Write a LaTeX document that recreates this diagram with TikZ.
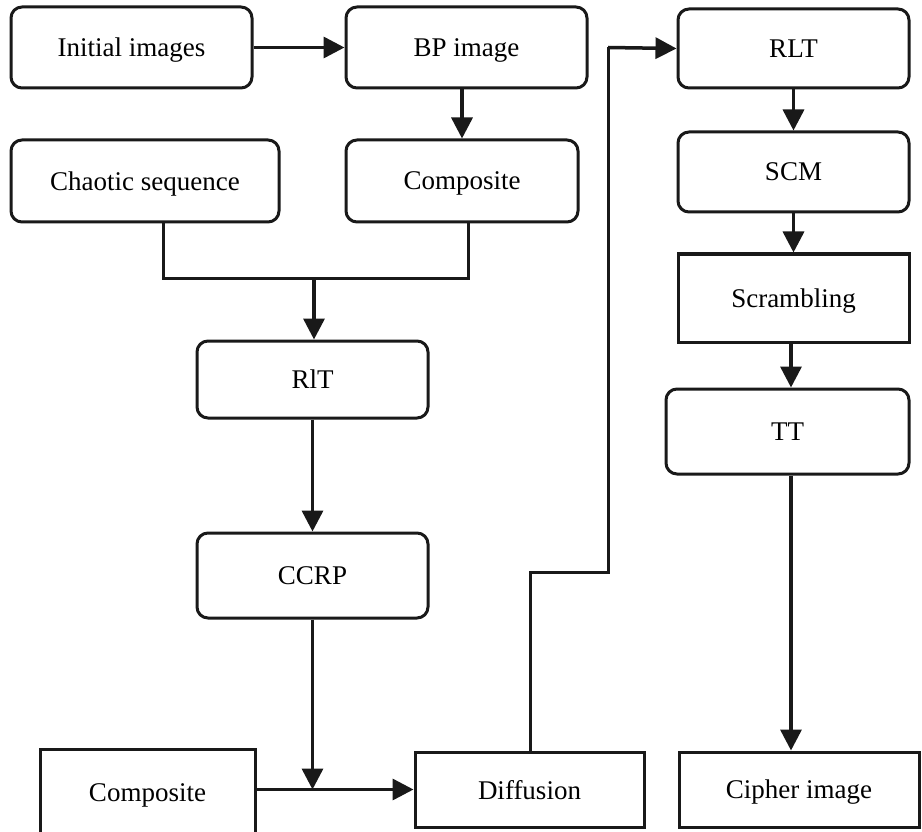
\documentclass[tikz,border=0pt]{standalone}
\usepackage{fontspec}
\setmainfont{Liberation Serif}
\usetikzlibrary{arrows.meta}
\begin{document}
\begin{tikzpicture}[x=1pt,y=-1pt,
  box/.style={draw=black!90,line width=3pt,inner sep=0pt,text depth=0pt,font=\fontsize{27}{32}\selectfont},
  rbox/.style={box,rounded corners=11pt},
  sbox/.style={box},
  conn/.style={draw=black!90,line width=3.5pt},
  arr/.style={conn,-{Triangle[length=21pt,width=21pt]}}]
\useasboundingbox (0,0) rectangle (922,832);
\clip (0,0) rectangle (922,832);
\fill[white] (0,0) rectangle (922,832);
% nodes
\node[rbox,minimum width=241pt,minimum height=81pt] (init) at (131.5,47.5) {Initial images};
\node[rbox,minimum width=241pt,minimum height=81pt] (bp) at (466.5,47.5) {BP image};
\node[rbox,minimum width=268pt,minimum height=82pt] (chaos) at (145,181) {Chaotic sequence};
\node[rbox,minimum width=232pt,minimum height=82pt] (compa) at (462,181) {Composite};
\node[rbox,minimum width=231pt,minimum height=77pt] (rit) at (312.5,379.5) {RlT};
\node[rbox,minimum width=231pt,minimum height=85pt] (ccrp) at (312.5,575.5) {CCRP};
\node[sbox,minimum width=215pt,minimum height=88pt] (compb) at (147.5,793) {Composite};
\node[sbox,minimum width=229pt,minimum height=75pt] (diff) at (529.5,789.5) {Diffusion};
\node[rbox,minimum width=231pt,minimum height=79pt] (rlt) at (793.5,48.5) {RLT};
\node[rbox,minimum width=231pt,minimum height=80pt] (scm) at (793.5,172) {SCM};
\node[sbox,minimum width=231pt,minimum height=88pt] (scr) at (793.5,298) {Scrambling};
\node[rbox,minimum width=243pt,minimum height=85pt] (tt) at (787.5,431.5) {TT};
\node[sbox,minimum width=240pt,minimum height=75pt] (ciph) at (799,789.5) {Cipher image};
% helper coordinates
\coordinate (jl) at (163,278);
\coordinate (jr) at (468,278);
\coordinate (jm) at (314,278);
\coordinate (d1) at (530,572);
\coordinate (d2) at (608,572);
\coordinate (d3) at (608,47.5);
\coordinate (vx) at (791,0);
% connectors
\draw[arr] (init.east) -- (bp.west);
\draw[arr] (bp.south -| compa.north) -- (compa.north);
\draw[conn,line width=3pt] (chaos.south -| jl) -- (jl) -- (jr) -- (compa.south -| jr);
\draw[arr] (jm) -- (rit.north -| jm);
\draw[arr] (rit.south) -- (ccrp.north);
\draw[arr] (compb.east |- diff.west) -- (diff.west);
\draw[arr] (ccrp.south) -- (ccrp.south |- diff.west);
\draw[conn,line width=3pt] (diff.north -| d1) -- (d1) -- (d2) -- (d3);
\draw[arr] (d3) -- (rlt.west);
\draw[arr] (rlt.south) -- (scm.north);
\draw[arr] (scm.south) -- (scr.north);
\draw[arr] (scr.south -| vx) -- (tt.north -| vx);
\draw[arr] (tt.south -| vx) -- (ciph.north -| vx);
\end{tikzpicture}
\end{document}
